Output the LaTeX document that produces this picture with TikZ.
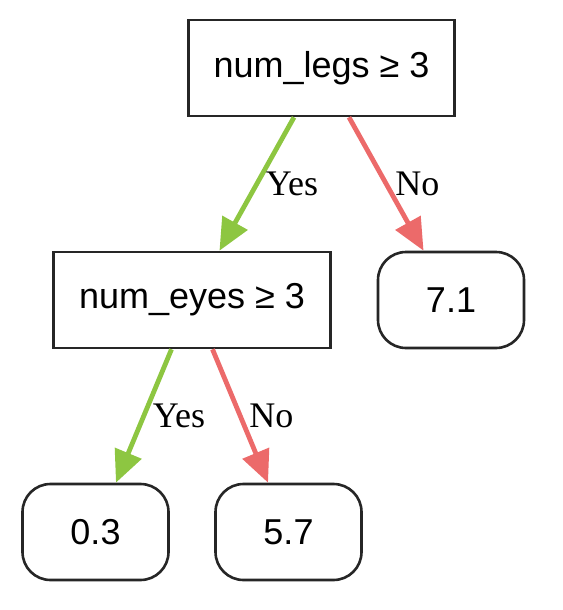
\documentclass[tikz,border=0pt]{standalone}
\usepackage{fontspec}
\setmainfont{Liberation Serif}
\newfontfamily\boxfont{Liberation Sans}
\usetikzlibrary{arrows.meta}

\definecolor{yesgreen}{HTML}{8DC641}
\definecolor{nored}{HTML}{EC6A6A}

\begin{document}
\begin{tikzpicture}
    [ level distance=116pt
    , level 1/.style={sibling distance=129.5pt}
    , level 2/.style={sibling distance=96.5pt}
    , every node/.style={font=\fontsize{18}{21}\selectfont}
    , split/.style={draw=black!85, line width=1.3pt, minimum height=48pt, font=\boxfont\fontsize{18}{21}\selectfont}
    , leaf/.style={split, rounded corners=14pt, minimum width=73pt}
    , yesedge/.style={draw=yesgreen, line width=2.4pt, -{Triangle[length=16pt,width=14pt]}}
    , noedge/.style={draw=nored, line width=2.4pt, -{Triangle[length=16pt,width=14pt]}}
    ]
  \useasboundingbox (0,0) rectangle (281pt,-305pt);
  \node[split, minimum width=133pt] (legs) at (160.75pt,-34pt) {num\_legs ≥ 3}
    child {node[split, minimum width=138.5pt] (eyes) {num\_eyes ≥ 3}
      child {node[leaf] (out03) {0.3}
        edge from parent[yesedge] node[right] {Yes}
      }
      child {node[leaf] (out57) {5.7}
        edge from parent[noedge] node[right] {No}
      }
      edge from parent[yesedge] node[right] {Yes}
    }
    child {node[leaf] (out71) {7.1}
      edge from parent[noedge] node[right] {No}
    }
  ;
\end{tikzpicture}
\end{document}
